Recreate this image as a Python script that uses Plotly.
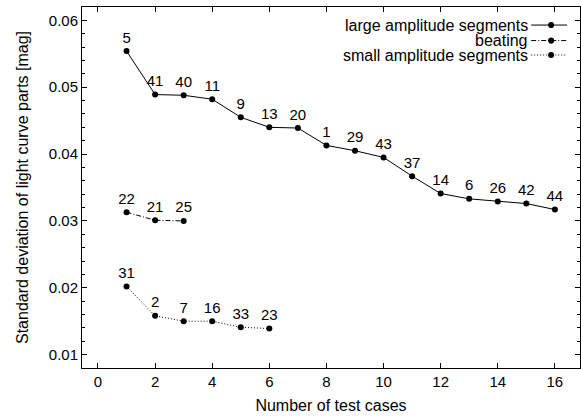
import plotly.graph_objects as go

# Data
large_x = list(range(1, 17))
large_y = [0.0554, 0.0489, 0.0488, 0.0482, 0.0455, 0.0440, 0.0439, 0.0413,
           0.0405, 0.0395, 0.0367, 0.0341, 0.0333, 0.0329, 0.0326, 0.0317]
large_lbl = ["5", "41", "40", "11", "9", "13", "20", "1", "29", "43", "37",
             "14", "6", "26", "42", "44"]

beat_x = [1, 2, 3]
beat_y = [0.0313, 0.0301, 0.0300]
beat_lbl = ["22", "21", "25"]

small_x = [1, 2, 3, 4, 5, 6]
small_y = [0.0202, 0.0158, 0.0150, 0.0150, 0.0141, 0.0139]
small_lbl = ["31", "2", "7", "16", "33", "23"]

series_names = ["large amplitude segments", "beating", "small amplitude segments"]
dashes = ["solid", "5px,2px,1px,2px", "1px,2px"]

FONT = "Liberation Sans, Arial, Helvetica, sans-serif"

fig = go.Figure()
for (xs, ys, lbl, name, dash) in [
    (large_x, large_y, large_lbl, series_names[0], dashes[0]),
    (beat_x, beat_y, beat_lbl, series_names[1], dashes[1]),
    (small_x, small_y, small_lbl, series_names[2], dashes[2]),
]:
    fig.add_trace(go.Scatter(
        x=xs, y=ys, text=lbl, name=name,
        mode="lines+markers+text", textposition="top center",
        textfont=dict(size=15, color="black", family=FONT),
        line=dict(color="black", width=1, dash=dash),
        marker=dict(color="black", size=6),
        showlegend=False, cliponaxis=False, hoverinfo="skip",
    ))

# Custom legend (text right-aligned, sample to the right)
leg_y = [0.950, 0.907, 0.867]
for name, dash, ly in zip(series_names, dashes, leg_y):
    fig.add_annotation(xref="paper", yref="paper", x=0.899, y=ly,
                       text=name, showarrow=False, xanchor="right", yanchor="middle",
                       font=dict(size=16, color="black", family=FONT))
    fig.add_shape(type="line", xref="paper", yref="paper",
                  x0=0.902, x1=0.974, y0=ly, y1=ly,
                  line=dict(color="black", width=1, dash=dash))
    fig.add_shape(type="circle", xref="paper", yref="paper",
                  x0=0.942 - 0.006, x1=0.942 + 0.006, y0=ly - 0.0085, y1=ly + 0.0085,
                  fillcolor="black", line=dict(color="black", width=0))

fig.update_layout(
    width=581, height=417,
    margin=dict(l=82, r=1, t=7, b=49, autoexpand=False),
    paper_bgcolor="white", plot_bgcolor="white",
    font=dict(family=FONT, size=15, color="black"),
)
fig.update_xaxes(
    range=[-0.56, 16.88], tickmode="linear", tick0=0, dtick=2,
    ticks="inside", ticklen=5, tickcolor="black",
    showline=True, linecolor="black", linewidth=1, mirror="ticks",
    showgrid=False, zeroline=False, automargin=False,
    title=dict(text="Number of test cases", standoff=10, font=dict(size=16)),
    tickfont=dict(size=15),
)
fig.update_yaxes(
    range=[0.008, 0.062], tickmode="array",
    tickvals=[0.01, 0.02, 0.03, 0.04, 0.05, 0.06],
    ticktext=["0.01", "0.02", "0.03", "0.04", "0.05", "0.06"],
    ticks="inside", ticklen=5, tickcolor="black",
    minor=dict(ticks="inside", ticklen=3, dtick=0.002, tick0=0.0, tickcolor="black", showgrid=False),
    showline=True, linecolor="black", linewidth=1, mirror="ticks",
    showgrid=False, zeroline=False, automargin=False,
    title=dict(text="Standard deviation of light curve parts [mag]", standoff=16, font=dict(size=16)),
    tickfont=dict(size=15),
)

fig.write_html("out.html", config={"displayModeBar": False},
               post_script="document.body.style.margin='0';")
